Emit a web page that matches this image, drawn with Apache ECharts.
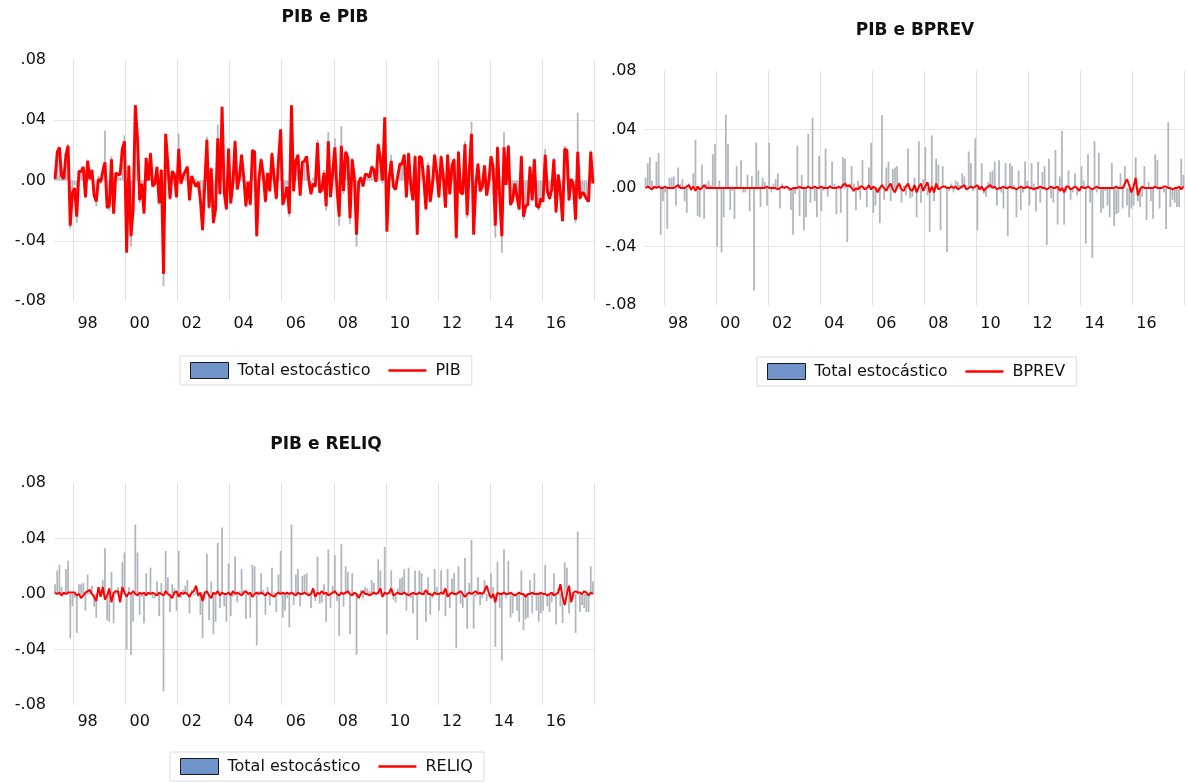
<!DOCTYPE html>
<html>
<head>
<meta charset="utf-8">
<script src="https://cdn.jsdelivr.net/npm/echarts@6/dist/echarts.min.js"></script>
<style>
html,body{margin:0;padding:0;background:#fff;}
#chart{width:1187px;height:782px;}
</style>
</head>
<body>
<div id="chart"></div>
<script>
// Monthly data, 1997M04 .. 2017M12
const START_YEAR = 1997;
const START_MONTH = 4;

const TOTAL = [
 0.007, 0.017, 0.021, 0.005, 0.001, 0.018, 0.024,-0.032,-0.009,-0.003,-0.028, 0.007,
 0.007, 0.008,-0.012, 0.014, 0.003, 0.006,-0.009,-0.017, 0.003,-0.002, 0.010, 0.033,
-0.019,-0.020, 0.016,-0.021, 0.003, 0.005, 0.002, 0.023, 0.030,-0.040, 0.005,-0.044,
-0.020, 0.050, 0.030,-0.015,-0.002,-0.021, 0.015, 0.001, 0.019,-0.003,-0.003, 0.009,
-0.016, 0.008,-0.070, 0.031, 0.012,-0.013, 0.007, 0.004,-0.012, 0.031,-0.003, 0.003,
 0.006, 0.010,-0.014, 0.003,-0.001, 0.001,-0.002,-0.015,-0.032,-0.004, 0.029,-0.019,
 0.009,-0.029,-0.020, 0.037,-0.010, 0.048,-0.009,-0.020, 0.022,-0.016,-0.002, 0.027,
-0.006, 0.002, 0.018, 0.003,-0.018,-0.001,-0.017, 0.021, 0.020,-0.037, 0.002, 0.015,
 0.003,-0.015, 0.005,-0.008, 0.019, 0.001,-0.013, 0.014, 0.031,-0.017,-0.012,-0.003,
-0.024, 0.050,-0.008, 0.014, 0.018,-0.009, 0.013, 0.014, 0.015, 0.001,-0.010, 0.002,
-0.005, 0.027,-0.007,-0.006, 0.007,-0.020, 0.032,-0.010, 0.006, 0.028,-0.005,-0.030,
 0.036,-0.009, 0.020, 0.016,-0.029, 0.015, 0.001,-0.044,-0.002, 0.003,-0.003, 0.005,
 0.004, 0.002, 0.010, 0.008,-0.001, 0.025, 0.017,-0.002, 0.034,-0.029, 0.001, 0.017,
-0.004,-0.006, 0.004, 0.011, 0.012, 0.018,-0.012, 0.019,-0.003,-0.014, 0.017,-0.033,
 0.017, 0.015, 0.002,-0.020, 0.012,-0.015,-0.003, 0.018, 0.005,-0.012, 0.017, 0.003,
-0.016, 0.018,-0.010, 0.011, 0.015,-0.039, 0.020,-0.007,-0.010, 0.026,-0.025, 0.008,
 0.039,-0.025,-0.002, 0.012,-0.008,-0.003, 0.010,-0.005,-0.002, 0.015, 0.005,-0.038,
 0.023,-0.010,-0.048, 0.032,-0.003, 0.024,-0.017,-0.014,-0.002,-0.012,-0.020, 0.017,
-0.026,-0.018,-0.017, 0.010,-0.014, 0.015,-0.012,-0.020,-0.014,-0.012, 0.021,-0.009,
-0.013,-0.006, 0.015,-0.022, 0.004,-0.009,-0.021, 0.023, 0.019,-0.014, 0.001,-0.003,
-0.028, 0.045,-0.013,-0.008,-0.010,-0.013,-0.013, 0.020, 0.009
];

const PIB = [
 0.001, 0.019, 0.022, 0.003, 0.001, 0.017, 0.023,-0.030,-0.008,-0.005,-0.024, 0.006,
 0.006, 0.009,-0.011, 0.013, 0.001, 0.007,-0.010,-0.014, 0.001,-0.001, 0.006, 0.012,
-0.018,-0.017, 0.014,-0.022, 0.005, 0.004, 0.004, 0.021, 0.026,-0.048, 0.010,-0.037,
-0.019, 0.050, 0.028,-0.013,-0.002,-0.022, 0.015, 0.000, 0.018,-0.004,-0.002, 0.009,
-0.015, 0.007,-0.062, 0.031, 0.011,-0.012, 0.006, 0.004,-0.011, 0.021,-0.002, 0.003,
 0.006, 0.009,-0.013, 0.003,-0.001,-0.004,-0.001,-0.013,-0.033,-0.003, 0.027,-0.018,
 0.008,-0.028,-0.019, 0.028,-0.009, 0.049,-0.008,-0.019, 0.021,-0.015,-0.002, 0.026,
-0.006, 0.002, 0.017, 0.002,-0.017,-0.001,-0.016, 0.020, 0.019,-0.037, 0.001, 0.014,
 0.004,-0.014, 0.005,-0.007, 0.018, 0.002,-0.012, 0.013, 0.034,-0.016,-0.011,-0.004,
-0.022, 0.050,-0.007, 0.013, 0.017,-0.010, 0.012, 0.013, 0.016, 0.000,-0.009,-0.002,
-0.004, 0.025,-0.008,-0.006, 0.005,-0.017, 0.026,-0.011, 0.005, 0.022,-0.006,-0.024,
 0.023,-0.007, 0.019, 0.015,-0.025, 0.014, 0.002,-0.036,-0.001, 0.002,-0.004, 0.004,
 0.004, 0.002, 0.009, 0.007,-0.001, 0.024, 0.014, 0.000, 0.042,-0.034, 0.001, 0.013,
-0.004,-0.006, 0.003, 0.011, 0.011, 0.017,-0.011, 0.018,-0.003,-0.013, 0.016,-0.036,
 0.016, 0.015, 0.001,-0.019, 0.010,-0.014,-0.003, 0.017, 0.005,-0.011, 0.016, 0.003,
-0.018, 0.017,-0.009, 0.010, 0.014,-0.038, 0.019,-0.008,-0.009, 0.024,-0.023, 0.007,
 0.031,-0.036,-0.003, 0.011,-0.007,-0.004, 0.010,-0.010,-0.001, 0.016, 0.009,-0.030,
 0.022,-0.010,-0.037, 0.022,-0.003, 0.023,-0.016,-0.013,-0.002,-0.011,-0.019, 0.016,
-0.024,-0.017,-0.016, 0.009,-0.013, 0.014,-0.017,-0.018,-0.012,-0.014, 0.017,-0.007,
-0.012,-0.006, 0.014,-0.021, 0.004,-0.008,-0.027, 0.021, 0.020,-0.013, 0.001,-0.003,
-0.026, 0.019,-0.012,-0.008,-0.009,-0.012,-0.014, 0.019,-0.002
];

const BPREV = [
 0.000, 0.001, 0.000,-0.001, 0.001, 0.000, 0.001, 0.000, 0.000, 0.001, 0.000, 0.000,
 0.000, 0.000, 0.001, 0.002, 0.000, 0.000, 0.000, 0.001, 0.002,-0.001, 0.001,-0.002,
 0.001,-0.001, 0.000, 0.002, 0.000, 0.000, 0.000, 0.000, 0.000, 0.000, 0.000, 0.000,
 0.000, 0.000, 0.000, 0.000, 0.000, 0.000, 0.000, 0.000, 0.000, 0.000, 0.000, 0.000,
 0.000, 0.000, 0.000, 0.000, 0.000, 0.000, 0.000, 0.000, 0.001, 0.000, 0.000, 0.000,
 0.000,-0.001, 0.000, 0.001, 0.000, 0.001, 0.000,-0.001, 0.000, 0.000, 0.000, 0.001,
 0.000, 0.000, 0.000, 0.001, 0.000, 0.000, 0.001, 0.000, 0.000, 0.001, 0.000, 0.000,
 0.000, 0.001, 0.000, 0.000, 0.000, 0.001, 0.000, 0.002, 0.003, 0.001, 0.002, 0.000,
-0.002, 0.000,-0.001, 0.001, 0.001,-0.001, 0.000, 0.002,-0.001, 0.001, 0.000,-0.003,
 0.000, 0.002, 0.000,-0.002, 0.001, 0.003,-0.001,-0.003, 0.001, 0.003,-0.001,-0.002,
 0.001, 0.003,-0.001,-0.002, 0.002,-0.003, 0.001, 0.003,-0.002, 0.001, 0.004,-0.003,
 0.001,-0.003, 0.003,-0.001, 0.000, 0.001, 0.001, 0.000, 0.000, 0.001, 0.000, 0.001,
-0.001, 0.000, 0.001, 0.002,-0.001, 0.000, 0.001, 0.000, 0.001, 0.002,-0.001, 0.001,
-0.002, 0.000, 0.001, 0.002, 0.000, 0.001,-0.001, 0.000, 0.000, 0.001, 0.000, 0.000,
 0.001, 0.000, 0.000,-0.001, 0.000, 0.001, 0.000, 0.000, 0.001, 0.000, 0.000,-0.001,
 0.000, 0.000, 0.001, 0.000, 0.000,-0.001, 0.000, 0.001, 0.000, 0.000, 0.001,-0.002,
 0.000,-0.003, 0.001, 0.001,-0.001, 0.000, 0.001, 0.000,-0.002, 0.001, 0.000, 0.000,
 0.001, 0.000,-0.001, 0.000, 0.001, 0.000, 0.000, 0.000, 0.000, 0.000, 0.000, 0.000,
 0.000, 0.001, 0.000, 0.000, 0.000, 0.003, 0.006, 0.002,-0.003, 0.001, 0.007,-0.005,
-0.001, 0.001, 0.000, 0.000, 0.000, 0.000, 0.000, 0.001, 0.000, 0.000, 0.000, 0.001,
 0.001, 0.000, 0.000,-0.001, 0.000, 0.000, 0.001,-0.001, 0.001
];

const RELIQ = [
 0.001, 0.000, 0.001,-0.001, 0.001, 0.000, 0.001, 0.001, 0.001, 0.001,-0.001, 0.000,
-0.003,-0.001, 0.001, 0.002, 0.003, 0.000,-0.002,-0.005, 0.005,-0.002, 0.005,-0.004,
-0.001, 0.004,-0.006, 0.001, 0.002, 0.002,-0.006, 0.005, 0.001,-0.002, 0.001, 0.000,
 0.002, 0.000,-0.001, 0.001, 0.000, 0.001,-0.001, 0.001, 0.000, 0.001, 0.000,-0.001,
 0.001, 0.000,-0.001, 0.002, 0.000,-0.001,-0.003, 0.001, 0.002,-0.002, 0.001, 0.000,
 0.001, 0.000,-0.002, 0.001, 0.002, 0.006,-0.001, 0.001,-0.005, 0.001, 0.002,-0.001,
-0.003, 0.001, 0.000, 0.002,-0.001, 0.001, 0.000, 0.000, 0.001,-0.001, 0.002, 0.000,
 0.001, 0.000,-0.001, 0.001, 0.002, 0.000, 0.001,-0.002, 0.000, 0.001, 0.000, 0.001,
 0.000,-0.001, 0.001, 0.000,-0.001,-0.002, 0.000, 0.001, 0.000, 0.001, 0.000, 0.001,
 0.000, 0.001, 0.000,-0.001, 0.001, 0.000, 0.000, 0.001, 0.000,-0.001, 0.000, 0.004,
-0.002, 0.001, 0.000, 0.002, 0.000, 0.001,-0.001, 0.000, 0.001, 0.002, 0.000,-0.001,
 0.001, 0.000, 0.001, 0.002, 0.000,-0.001, 0.001, 0.000,-0.003, 0.000, 0.002, 0.000,
 0.000,-0.001, 0.000, 0.001, 0.000, 0.001, 0.004,-0.002, 0.001, 0.000, 0.001, 0.004,
-0.001, 0.000, 0.001, 0.000, 0.000, 0.001, 0.000,-0.001, 0.000, 0.001, 0.000, 0.000,
 0.001, 0.000, 0.000, 0.003, 0.000, 0.000,-0.001, 0.001, 0.000, 0.000, 0.001, 0.000,
 0.004,-0.002, 0.000, 0.001, 0.000, 0.000, 0.001, 0.002, 0.000,-0.002, 0.000, 0.001,
 0.000, 0.001, 0.002, 0.000, 0.001, 0.000, 0.002, 0.006, 0.001,-0.003, 0.000,-0.006,
 0.001, 0.000, 0.000, 0.001, 0.000, 0.000, 0.001, 0.000,-0.001, 0.000, 0.001, 0.000,
 0.000,-0.002, 0.000, 0.000, 0.001, 0.000, 0.000, 0.000, 0.001, 0.000, 0.000,-0.001,
 0.000, 0.001,-0.001, 0.000, 0.001, 0.007,-0.002,-0.008, 0.000, 0.006,-0.006, 0.001,
 0.002, 0.001, 0.001, 0.000, 0.002, 0.001,-0.001, 0.001, 0.000
];

const PANEL_TITLES = ['PIB e PIB', 'PIB e BPREV', 'PIB e RELIQ'];
const LINE_NAMES = ['PIB', 'BPREV', 'RELIQ'];
const BAR_NAME = 'Total estocástico';
const Y_TICKS = [-0.08, -0.04, 0.00, 0.04, 0.08];

// month categories
const categories = [];
for (let k = 0; k < TOTAL.length; k++) {
  const m = START_MONTH - 1 + k;
  categories.push((START_YEAR + Math.floor(m / 12)) + 'M' + String(m % 12 + 1).padStart(2, '0'));
}
function yr(v) { return parseInt(v.slice(0, 4), 10); }
function mo(v) { return parseInt(v.slice(5), 10); }

const FONT = 'DejaVu Sans';

const grids = [
  { left: 54, top: 60, width: 540, height: 241 },
  { left: 644.5, top: 71, width: 540, height: 234 },
  { left: 54, top: 483, width: 540, height: 222 }
];
const labelMargins = [15, 11, 9];

function yFmt(v) {
  const r = Math.round(v * 100);
  const s = (Math.abs(r) / 100).toFixed(2).replace(/^0/, '');
  return (r < 0 ? '-' : '') + s;
}

const xAxes = grids.map((g, gi) => ({
  type: 'category', gridIndex: gi, data: categories, boundaryGap: true,
  axisLine: { show: false }, axisTick: { show: false },
  axisLabel: {
    interval: (i, v) => mo(v) === 7 && yr(v) % 2 === 0,
    formatter: v => v.slice(2, 4),
    margin: labelMargins[gi], color: '#111', fontSize: 16, fontFamily: FONT
  },
  splitLine: {
    show: true,
    interval: (i, v) => mo(v) === 1 && yr(v) % 2 === 0,
    lineStyle: { color: '#e2e2e2', width: 1 }
  }
}));

const yAxes = grids.map((g, gi) => ({
  type: 'value', gridIndex: gi, min: Y_TICKS[0], max: Y_TICKS[Y_TICKS.length - 1], interval: 0.04,
  axisLine: { show: false }, axisTick: { show: false },
  axisLabel: { formatter: yFmt, margin: 8, color: '#111', fontSize: 16, fontFamily: FONT },
  splitLine: { show: true, showMinLine: false, showMaxLine: false, lineStyle: { color: '#e6e6e6', width: 1 } }
}));

const lineData = [PIB, BPREV, RELIQ];
const lineWidths = [2.9, 2, 2];
const series = [];
grids.forEach((g, gi) => {
  series.push({
    name: BAR_NAME, type: 'bar', xAxisIndex: gi, yAxisIndex: gi, data: TOTAL,
    barWidth: 1.8, itemStyle: { color: '#b2b7bf' }, silent: true, animation: false, z: 2
  });
  series.push({
    name: LINE_NAMES[gi], type: 'line', xAxisIndex: gi, yAxisIndex: gi, data: lineData[gi],
    symbol: 'none', showSymbol: false, lineStyle: { color: '#ff0000', width: lineWidths[gi] }, itemStyle: { color: '#ff0000' },
    silent: true, animation: false, z: 3
  });
});

const titlePos = [{ x: 325, y: 9 }, { x: 915, y: 22 }, { x: 326, y: 436 }];
const titles = PANEL_TITLES.map((t, i) => ({
  text: t, left: titlePos[i].x, top: titlePos[i].y, textAlign: 'center', padding: 0,
  textStyle: { fontFamily: FONT, fontSize: 17, fontWeight: 'bold', color: '#111' }
}));

const LINE_ICON = 'path://M0,0 L40,0 L40,2.4 L0,2.4 Z';
const legendPos = [{ x: 180, y: 356 }, { x: 757, y: 357 }, { x: 170, y: 752 }];
const legends = LINE_NAMES.map((n, i) => ({
  left: legendPos[i].x, top: legendPos[i].y, orient: 'horizontal',
  borderColor: '#dcdcdc', borderWidth: 1, padding: [6, 11, 6, 10],
  itemWidth: 38, itemHeight: 16, itemGap: 18, selectedMode: false, symbolKeepAspect: true,
  textStyle: { fontFamily: FONT, fontSize: 16, color: '#111', padding: [0, 0, 0, 4] },
  data: [
    { name: BAR_NAME, icon: 'rect', itemStyle: { color: '#7194cb', borderColor: '#1a1a1a', borderWidth: 1 } },
    { name: n, icon: LINE_ICON, itemStyle: { color: '#ff0000', borderWidth: 0 } }
  ]
}));

const chart = echarts.init(document.getElementById('chart'), null, { renderer: 'canvas' });
chart.setOption({
  backgroundColor: '#ffffff',
  animation: false,
  title: titles,
  legend: legends,
  grid: grids,
  xAxis: xAxes,
  yAxis: yAxes,
  series: series
});
</script>
</body>
</html>
